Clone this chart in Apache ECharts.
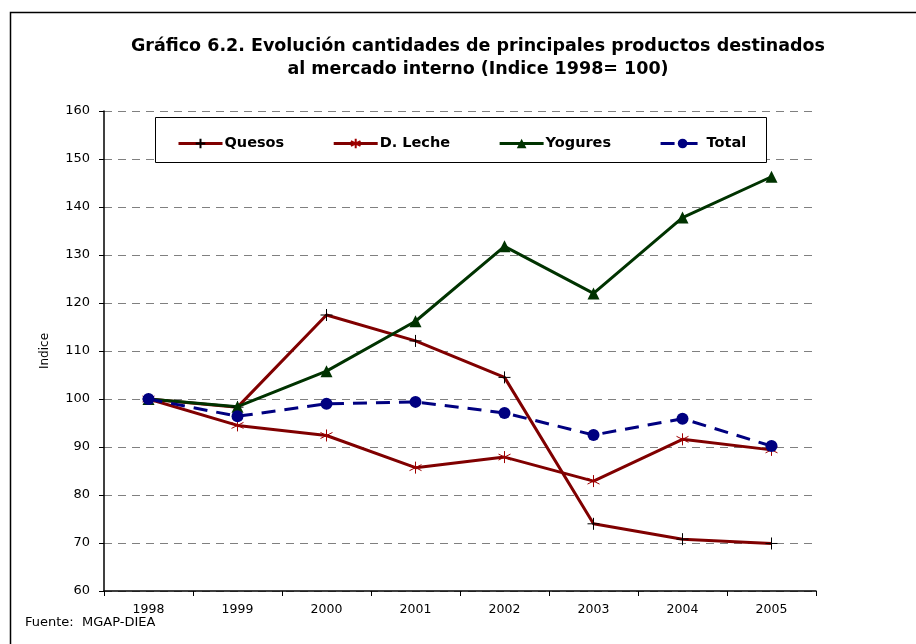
<!DOCTYPE html>
<html><head><meta charset="utf-8">
<script src="https://cdn.jsdelivr.net/npm/echarts@6/dist/echarts.min.js"></script>
<style>html,body{margin:0;padding:0;background:#fff}#c{width:916px;height:644px}</style>
</head><body><div id="c"></div>
<script>
const categories = ['1998','1999','2000','2001','2002','2003','2004','2005'];
const quesos  = [100, 98.3, 117.5, 112.1, 104.5, 74.0, 70.8, 69.9];
const dLeche  = [100, 94.5, 92.4, 85.7, 87.9, 82.9, 91.6, 89.4];
const yogures = [100, 98.4, 105.8, 116.2, 131.8, 122.0, 137.8, 146.3];
const total   = [100, 96.4, 99.0, 99.4, 97.1, 92.5, 95.9, 90.2];
const seriesNames = ['Quesos','D. Leche','Yogures','Total'];

const font = 'DejaVu Sans, Verdana, sans-serif';
const chart = echarts.init(document.getElementById('c'), null, {renderer:'canvas'});
const plusPath = 'path://M5,0L5,10M0,5L10,5';
const starPath = 'path://M5,0L5,10M0.7,2.5L9.3,7.5M0.7,7.5L9.3,2.5';
chart.setOption({
  animation:false,
  backgroundColor:'#fff',
  title:{
    text:'Gráfico 6.2. Evolución cantidades de principales productos destinados\nal mercado interno (Indice 1998= 100)',
    left:473, top:30, textAlign:'center',
    textStyle:{fontFamily:font, fontWeight:'bold', fontSize:17.5, color:'#000', lineHeight:23}
  },
  graphic:[
    {type:'rect', shape:{x:10.5,y:12.5,width:1000,height:1000}, style:{fill:'none',stroke:'#000',lineWidth:1.5}, z:-1},
    {type:'text', left:25, top:616, style:{text:'Fuente:  MGAP-DIEA', font:'13px '+font, fill:'#000'}},
    {type:'rect', shape:{x:155.5,y:117.5,width:611,height:45}, style:{fill:'#fff',stroke:'#000',lineWidth:1}, z:5}
  ],
  legend:{
    data:seriesNames, left:172, top:131, itemGap:48, itemWidth:44, itemHeight:12, z:10,
    lineStyle:{width:3},
    textStyle:{fontFamily:font, fontWeight:'bold', fontSize:14.5, color:'#000', padding:[0,0,0,-3]}
  },
  grid:{left:104, right:100, top:111, bottom:53},
  xAxis:{
    type:'category', data:categories, boundaryGap:true,
    axisLine:{lineStyle:{color:'#000', width:1.5}},
    axisTick:{show:true, length:5, lineStyle:{color:'#000'}},
    axisLabel:{fontFamily:font, fontSize:12.5, color:'#000', margin:12},
    splitLine:{show:false}
  },
  yAxis:{
    type:'value', min:60, max:160, interval:10,
    name:'Indice', nameLocation:'middle', nameGap:53, nameRotate:90,
    nameTextStyle:{fontFamily:font, fontSize:12, color:'#000'},
    axisLine:{show:true, lineStyle:{color:'#000', width:1.5}},
    axisTick:{show:true, length:5, lineStyle:{color:'#000'}},
    axisLabel:{fontFamily:font, fontSize:13, color:'#000', margin:14},
    splitLine:{show:true, lineStyle:{color:'#808080', type:[8,6], width:1.2}}
  },
  series:[
    {name:'Quesos', type:'line', data:quesos, symbol:plusPath, symbolSize:12,
     lineStyle:{color:'#800000', width:3}, itemStyle:{color:'#800000', borderColor:'#000', borderWidth:1}},
    {name:'D. Leche', type:'line', data:dLeche, symbol:starPath, symbolSize:12,
     lineStyle:{color:'#800000', width:3}, itemStyle:{color:'#800000', borderColor:'#a00000', borderWidth:1}},
    {name:'Yogures', type:'line', data:yogures, symbol:'triangle', symbolSize:12,
     lineStyle:{color:'#003300', width:3}, itemStyle:{color:'#003300', borderWidth:0}},
    {name:'Total', type:'line', data:total, symbol:'circle', symbolSize:12,
     lineStyle:{color:'#000080', width:3, type:[14,9]}, itemStyle:{color:'#000080', borderWidth:0}}
  ]
});
</script></body></html>
